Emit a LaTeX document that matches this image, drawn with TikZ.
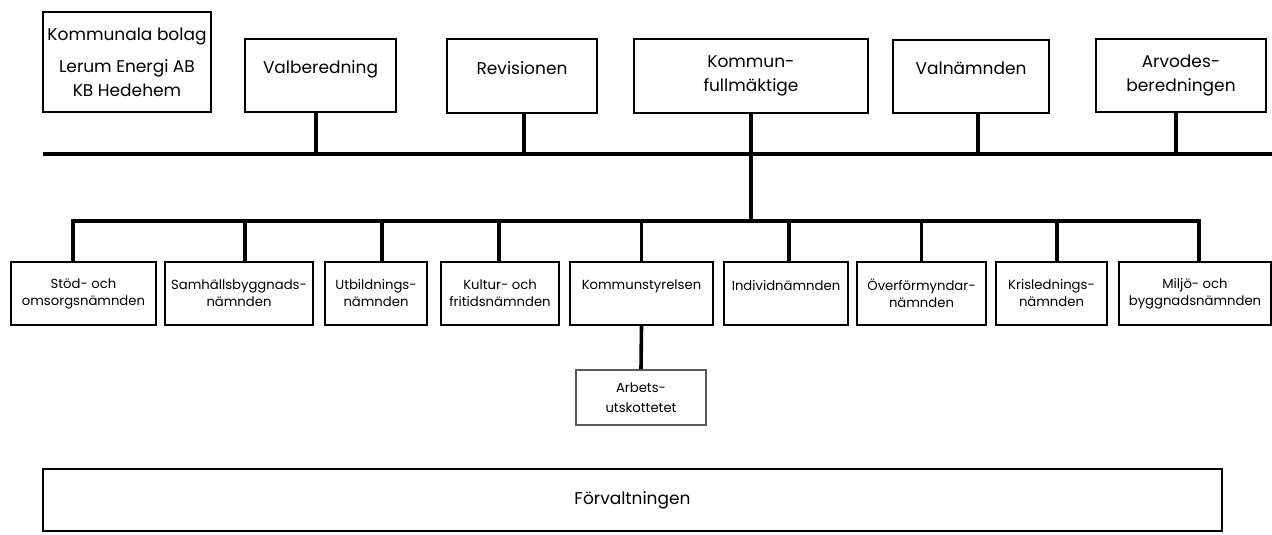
\documentclass[tikz,border=0pt]{standalone}
\usepackage{fontspec}
\setmainfont{Poppins}
\begin{document}
\begin{tikzpicture}[x=1pt,y=-1pt,
    box/.style={draw,line width=2pt,align=center,inner sep=0pt,minimum height=73,font=\fontsize{17}{24}\selectfont},
    nbox/.style={draw,line width=2pt,align=center,inner sep=0pt,minimum height=63,font=\fontsize{13.2}{17}\selectfont},
    link/.style={line width=3.6pt},
    bus/.style={line width=4pt,line cap=rect}]
  \useasboundingbox (0,0) rectangle (1272,535);
  \node[box,minimum width=168,minimum height=100] (bolag) at (127,62)
    {Kommunala bolag\\[8pt]Lerum Energi AB\\KB Hedehem};
  \node[box,minimum width=151,text depth=16] (valb) at (320.5,75.5) {Valberedning};
  \node[box,minimum width=150,text depth=16] (rev) at (522,76) {Revisionen};
  \node[box,minimum width=234] (kf) at (751,76) {Kommun-\\fullmäktige};
  \node[box,minimum width=156,text depth=16] (valn) at (971,76.5) {Valnämnden};
  \node[box,minimum width=170] (arvode) at (1181,75.5) {Arvodes-\\beredningen};
  \coordinate (busL) at (45,154);
  \coordinate (busR) at (1272,154);
  \coordinate (lbusL) at (73,221);
  \coordinate (lbusR) at (1199,221);
  \node[nbox,minimum width=145] (stod) at (83.5,293.5) {Stöd- och\\omsorgsnämnden};
  \node[nbox,minimum width=148] (samh) at (239,293.5) {Samhällsbyggnads-\\nämnden};
  \node[nbox,minimum width=102] (utb) at (376,293.5) {Utbildnings-\\nämnden};
  \node[nbox,minimum width=118] (kultur) at (500,293.5) {Kultur- och\\fritidsnämnden};
  \node[nbox,minimum width=143,text depth=17] (ks) at (641.5,293.5) {Kommunstyrelsen};
  \node[nbox,minimum width=124,text depth=17] (ind) at (786,293.5) {Individnämnden};
  \node[nbox,minimum width=129] (overf) at (921.5,293.5) {Överförmyndar-\\nämnden};
  \node[nbox,minimum width=111] (kris) at (1051.5,293.5) {Krislednings-\\nämnden};
  \node[nbox,minimum width=152] (miljo) at (1195,293.5) {Miljö- och\\byggnadsnämnden};
  \node[nbox,draw=black!65,line width=1.6pt,minimum width=130,minimum height=55] (arb) at (641,397.5)
    {Arbets-\\[3pt]utskottetet};
  \node[box,minimum width=1179,minimum height=62] (forv) at (632.5,500) {Förvaltningen};
  \draw[bus] (busL) -- (busR);
  \draw[bus] (lbusL) -- (lbusR);
  \foreach \n/\dx in {valb/-4.5,rev/2,valn/7,arvode/-5}
    \draw[link] ([xshift=\dx]\n.south) -- ([xshift=\dx]\n.south |- busL);
  \draw[link] (kf.south) -- (kf.south |- lbusL);
  \foreach \n/\dx in {stod/-10.5,samh/6,utb/6,kultur/-1,ks/0,ind/3,overf/0,kris/5.5,miljo/4}
    \draw[link] ([xshift=\dx]\n.north) -- ([xshift=\dx]\n.north |- lbusL);
  \draw[link] (ks.south) -- (arb.north);
\end{tikzpicture}
\end{document}
